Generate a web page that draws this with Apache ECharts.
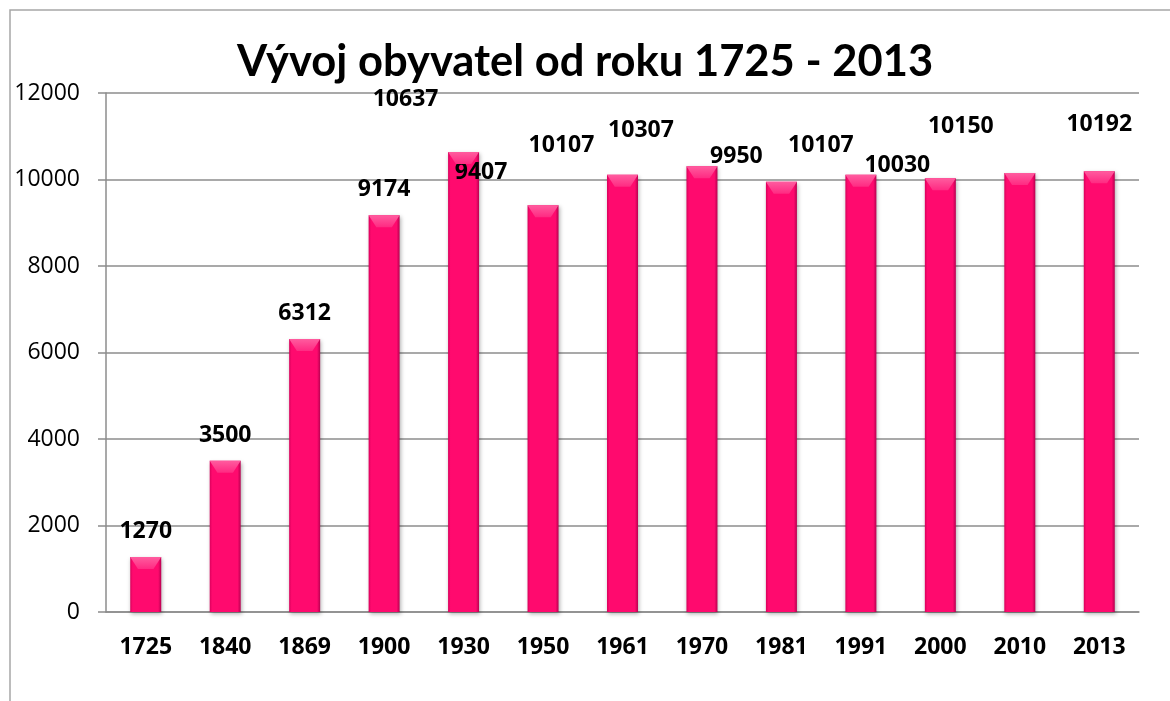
<!DOCTYPE html>
<html>
<head>
<meta charset="utf-8">
<script src="https://cdn.jsdelivr.net/npm/echarts@6/dist/echarts.min.js"></script>
<style>
  html, body { margin: 0; padding: 0; background: #fff; }
  #main { width: 1170px; height: 701px; }
</style>
</head>
<body>
<div id="main"></div>
<script>
// data
var roky = ['1725', '1840', '1869', '1900', '1930', '1950', '1961', '1970', '1981', '1991', '2000', '2010', '2013'];
var obyvatel = [1270, 3500, 6312, 9174, 10637, 9407, 10107, 10307, 9950, 10107, 10030, 10150, 10192];
var yTicks = [0, 2000, 4000, 6000, 8000, 10000, 12000];

var titulek = 'Vývoj obyvatel od roku 1725 - 2013';
var pismo = 'Lato, "Open Sans", sans-serif';
var pismo2 = '"Open Sans", Lato, sans-serif';

var myChart = echarts.init(document.getElementById('main'));

// popisky jsou v originale posunute, tak jim dame offset
var posun = [[0, 0], [0, 0], [0, 0], [0, 0], [-58, -27], [-62, -7], [-61, -4], [-61, -10],
  [-45, 0], [-40, -4], [-43, 13], [-59, -21], [0, -21]];

var sloupce = obyvatel.map(function (v, i) {
  return { value: v, label: { offset: posun[i] } };
});

var option = {
  animation: false,
  backgroundColor: '#fff',
  title: {
    text: titulek,
    left: 'center',
    top: 35,
    textStyle: {
      fontFamily: pismo,
      fontSize: 43.5,
      fontWeight: 'bold',
      color: '#000'
    }
  },
  graphic: [{
    type: 'polyline',
    shape: { points: [[10, 701], [10, 10], [1170, 10]] },
    style: { stroke: '#a6a6a6', lineWidth: 1.5, fill: null }
  }],
  grid: {
    left: 106,
    right: 31,
    top: 93,
    bottom: 89
  },
  xAxis: {
    type: 'category',
    data: roky,
    axisLine: { lineStyle: { color: '#8c8c8c', width: 1.5 } },
    axisTick: { show: false },
    axisLabel: {
      margin: 24,
      fontFamily: pismo2,
      fontSize: 23,
      fontWeight: 'bold',
      color: '#000'
    }
  },
  yAxis: {
    type: 'value',
    min: yTicks[0],
    max: yTicks[yTicks.length - 1],
    interval: 2000,
    axisLine: { show: true, lineStyle: { color: '#8c8c8c', width: 1.5 } },
    axisTick: { show: true, length: 8, lineStyle: { color: '#8c8c8c', width: 1.5 } },
    splitLine: { lineStyle: { color: '#8c8c8c', width: 1.5 } },
    axisLabel: {
      margin: 26,
      fontFamily: pismo2,
      fontSize: 23,
      color: '#000',
      formatter: function (v) { return String(v); }
    }
  },
  series: [
    {
      name: 'obyvatel',
      type: 'bar',
      data: sloupce,
      barWidth: '39%',
      barGap: '-100%',
      itemStyle: {
        color: {
          type: 'linear', x: 0, y: 0, x2: 1, y2: 0,
          colorStops: [
            { offset: 0, color: '#d9005c' },
            { offset: 0.08, color: '#ff0a6e' },
            { offset: 0.9, color: '#ff0a6e' },
            { offset: 1, color: '#b80050' }
          ]
        },
        shadowColor: 'rgba(0,0,0,0.3)',
        shadowBlur: 4,
        shadowOffsetX: 1,
        shadowOffsetY: 2
      },
      label: {
        show: true,
        position: 'top',
        distance: 14,
        fontFamily: pismo2,
        fontSize: 23,
        fontWeight: 'bold',
        color: '#000'
      },
      z: 2
    },
    {
      name: 'hrana',
      type: 'pictorialBar',
      data: obyvatel,
      barWidth: '39%',
      barGap: '-100%',
      symbol: 'path://M0,0 L10,0 L7.5,4 L2.5,4 Z',
      symbolSize: ['100%', 12],
      symbolPosition: 'end',
      itemStyle: {
        color: {
          type: 'linear', x: 0, y: 0, x2: 0, y2: 1,
          colorStops: [
            { offset: 0, color: '#ff5c9f' },
            { offset: 1, color: '#ff2a82' }
          ]
        }
      },
      silent: true,
      z: 3
    }
  ]
};

myChart.setOption(option);
window.onresize = myChart.resize;
</script>
</body>
</html>
